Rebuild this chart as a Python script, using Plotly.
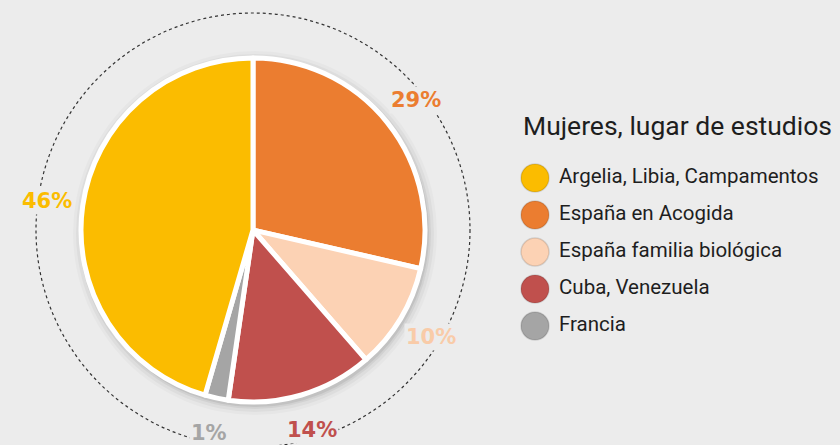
import math
import plotly.graph_objects as go

# ============================================================
# Data
# ============================================================

slice_labels = [
    "España en Acogida",
    "España familia biológica",
    "Cuba, Venezuela",
    "Francia",
    "Argelia, Libia, Campamentos",
]
slice_values = [28.6, 10.0, 13.7, 2.2, 45.5]
slice_text = ["29%", "10%", "14%", "1%", "46%"]
slice_colors = ["#EB7D30", "#FCD2B4", "#C0504D", "#A5A5A5", "#FBBC00"]
label_colors = ["#EB7D30", "#F9CBA8", "#C0504D", "#A5A5A5", "#FBBC00"]

legend_labels = [
    "Argelia, Libia, Campamentos",
    "España en Acogida",
    "España familia biológica",
    "Cuba, Venezuela",
    "Francia",
]
legend_colors = ["#FBBC00", "#EB7D30", "#FCD2B4", "#C0504D", "#A5A5A5"]
legend_title = "Mujeres, lugar de estudios"

W, H = 840, 445
BG = "#ECECEC"
CX, CY = 253, 230  # pie centre, pixels from top-left
R = 172
R_RING = 217
R_LABEL = 208

fig = go.Figure()

fig.add_trace(
    go.Pie(
        labels=slice_labels,
        values=slice_values,
        sort=False,
        direction="clockwise",
        rotation=0,
        marker=dict(colors=slice_colors, line=dict(color="white", width=5)),
        textinfo="none",
        hoverinfo="label+percent",
        showlegend=False,
        domain=dict(
            x=[(CX - R) / W, (CX + R) / W],
            y=[(H - CY - R) / H, (H - CY + R) / H],
        ),
    )
)

# custom legend: circles + text on a hidden pixel axis
fig.add_trace(
    go.Scatter(
        x=[535] * len(legend_labels),
        y=legend_labels,
        mode="markers",
        marker=dict(size=28, color=legend_colors,
                    line=dict(color="rgba(0,0,0,0.12)", width=1.5)),
        hoverinfo="skip",
        showlegend=False,
    )
)
fig.add_trace(
    go.Scatter(
        x=[559] * len(legend_labels),
        y=legend_labels,
        mode="text",
        text=legend_labels,
        textposition="middle right",
        textfont=dict(family="Roboto", size=20.5, color="#1E1E1E"),
        hoverinfo="skip",
        showlegend=False,
    )
)

# ============================================================
# Shapes: shadow + dotted ring
# ============================================================

def px_circle(r, dx=0, dy=0):
    return dict(
        x0=(CX + dx - r) / W, x1=(CX + dx + r) / W,
        y0=(H - CY - dy - r) / H, y1=(H - CY - dy + r) / H,
    )

shapes = []
for k, a in [(10, 0.025), (7, 0.035), (4, 0.05), (2, 0.07)]:
    shapes.append(dict(type="circle", xref="paper", yref="paper", layer="below",
                       fillcolor=f"rgba(0,0,0,{a})", line=dict(width=0),
                       **px_circle(R + k, dx=2, dy=3)))
shapes.append(dict(type="circle", xref="paper", yref="paper", layer="below",
                   fillcolor="rgba(0,0,0,0)",
                   line=dict(color="#333333", width=1.2, dash="dot"),
                   **px_circle(R_RING)))

# ============================================================
# Percentage labels around the ring
# ============================================================

annotations = []
total = sum(slice_values)
cum = 0
for v, t, c in zip(slice_values, slice_text, label_colors):
    mid = (cum + v / 2) / total * 2 * math.pi
    cum += v
    px = CX + R_LABEL * math.sin(mid)
    py = min(CY - R_LABEL * math.cos(mid), H - 12)
    annotations.append(dict(
        x=px / W, y=(H - py) / H, xref="paper", yref="paper",
        xanchor="center", yanchor="middle",
        text=t, showarrow=False, bgcolor=BG,
        font=dict(family="DejaVu Sans", size=21, color=c, weight="bold"),
    ))

annotations.append(dict(
    x=521 / W, y=(H - 125) / H, xref="paper", yref="paper",
    xanchor="left", yanchor="middle", text=legend_title, showarrow=False,
    font=dict(family="Roboto", size=26.5, color="#1E1E1E"),
))

fig.update_layout(
    width=W,
    height=H,
    paper_bgcolor=BG,
    plot_bgcolor="rgba(0,0,0,0)",
    margin=dict(l=0, r=0, t=0, b=0),
    xaxis=dict(range=[0, W], visible=False, fixedrange=True),
    yaxis=dict(
        type="category",
        categoryorder="array",
        categoryarray=legend_labels,
        range=[(H - 178) / 37, -178 / 37],
        visible=False,
        fixedrange=True,
    ),
    shapes=shapes,
    annotations=annotations,
)

fig.write_html(
    "out.html",
    config={"displayModeBar": False},
    post_script="document.body.style.margin='0';",
)
